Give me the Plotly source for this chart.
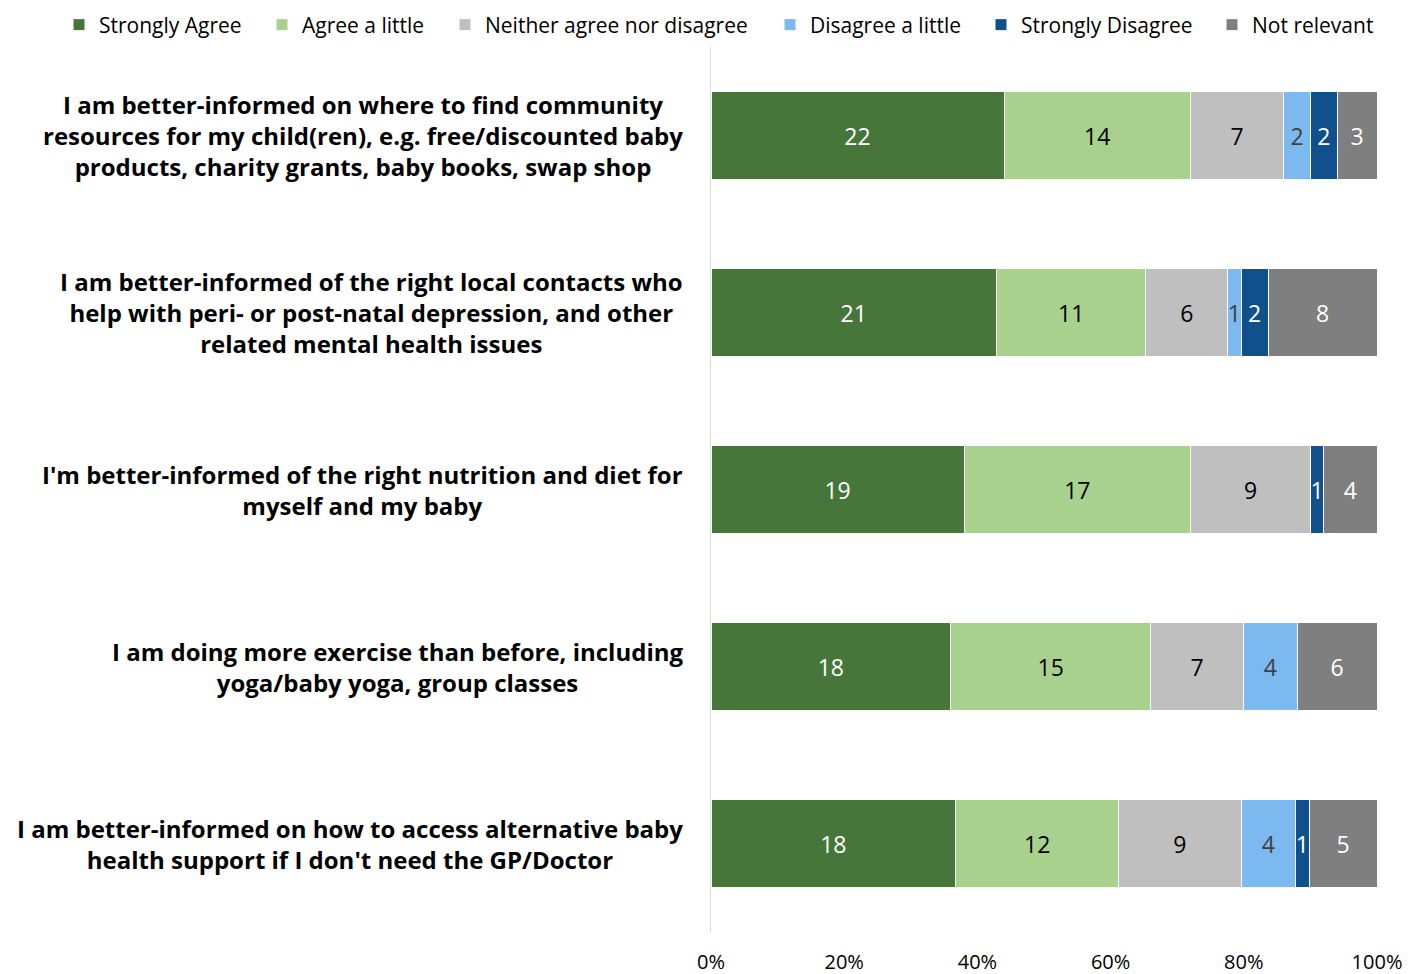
import plotly.graph_objects as go

# Survey statements (top to bottom)
statements = [
    "I am better-informed on where to find community<br>resources for my child(ren), e.g. free/discounted baby<br>products, charity grants, baby books, swap shop",
    "I am better-informed of the right local contacts who<br>help with peri- or post-natal depression, and other<br>related mental health issues",
    "I'm better-informed of the right nutrition and diet for<br>myself and my baby",
    "I am doing more exercise than before, including<br>yoga/baby yoga, group classes",
    "I am better-informed on how to access alternative baby<br>health support if I don't need the GP/Doctor",
]

responses = ["Strongly Agree", "Agree a little", "Neither agree nor disagree",
             "Disagree a little", "Strongly Disagree", "Not relevant"]

# Response counts per statement
strongly_agree = [22, 21, 19, 18, 18]
agree_little = [14, 11, 17, 15, 12]
neither = [7, 6, 9, 7, 9]
disagree_little = [2, 1, 0, 4, 4]
strongly_disagree = [2, 2, 1, 0, 1]
not_relevant = [3, 8, 4, 6, 5]

series = [strongly_agree, agree_little, neither, disagree_little, strongly_disagree, not_relevant]
colors = ["#47763A", "#A9D18E", "#BFBFBF", "#7CB9EE", "#10508C", "#7F7F7F"]
text_colors = ["white", "black", "black", "#404040", "white", "white"]

x_ticks = [0, 20, 40, 60, 80, 100]
x_tick_labels = ["0%", "20%", "40%", "60%", "80%", "100%"]

FONT = "Open Sans"
W, H = 1410, 974

# Left edge (px) of each legend entry's text, one legend box per response
legend_text_x = [99, 302, 485, 810, 1021, 1252]

fig = go.Figure()
ids = list(range(len(statements)))
legend_layout = {}
for k, (name, vals, col, tcol) in enumerate(zip(responses, series, colors, text_colors)):
    key = "legend" if k == 0 else f"legend{k + 1}"
    fig.add_trace(go.Bar(
        y=ids, x=vals, orientation="h", name=name, legend=key, showlegend=True,
        marker=dict(color=col, line=dict(color="white", width=1)),
        text=[str(v) if v else "" for v in vals],
        textposition="inside", insidetextanchor="middle", textangle=0,
        textfont=dict(family=FONT, size=23, color=tcol),
        hoverinfo="skip",
    ))
    legend_layout[key] = dict(
        orientation="h", xref="container", yref="container",
        x=(legend_text_x[k] - 40) / W, xanchor="left",
        y=1 - 25 / H, yanchor="middle",
        font=dict(family=FONT, size=21, color="black"),
        bgcolor="rgba(0,0,0,0)",
    )

# Multi-line statement labels, centred and right-aligned against the axis
for i, s in enumerate(statements):
    fig.add_annotation(
        x=0, xref="paper", y=i, yref="y", text=s, showarrow=False,
        xanchor="right", yanchor="middle", align="center", xshift=-26,
        font=dict(family=FONT, size=24, color="black", weight="bold"),
    )

fig.update_layout(
    width=W, height=H,
    showlegend=True,
    margin=dict(l=711, r=33, t=47, b=42, autoexpand=False),
    paper_bgcolor="white", plot_bgcolor="white",
    barmode="stack", barnorm="percent", bargap=0.5,
    uniformtext=dict(minsize=23, mode="show"),
    font=dict(family=FONT, color="black"),
    xaxis=dict(
        range=[0, 100], tickmode="array", tickvals=x_ticks, ticktext=x_tick_labels,
        showgrid=False, zeroline=False, showline=False,
        tickfont=dict(family=FONT, size=20, color="black"),
        ticklabelstandoff=16, automargin=False,
    ),
    yaxis=dict(
        autorange="reversed", showticklabels=False, showgrid=False,
        zeroline=False, showline=True, linecolor="#D9D9D9", linewidth=1,
        automargin=False,
    ),
    **legend_layout,
)

fig.write_html("out.html")
